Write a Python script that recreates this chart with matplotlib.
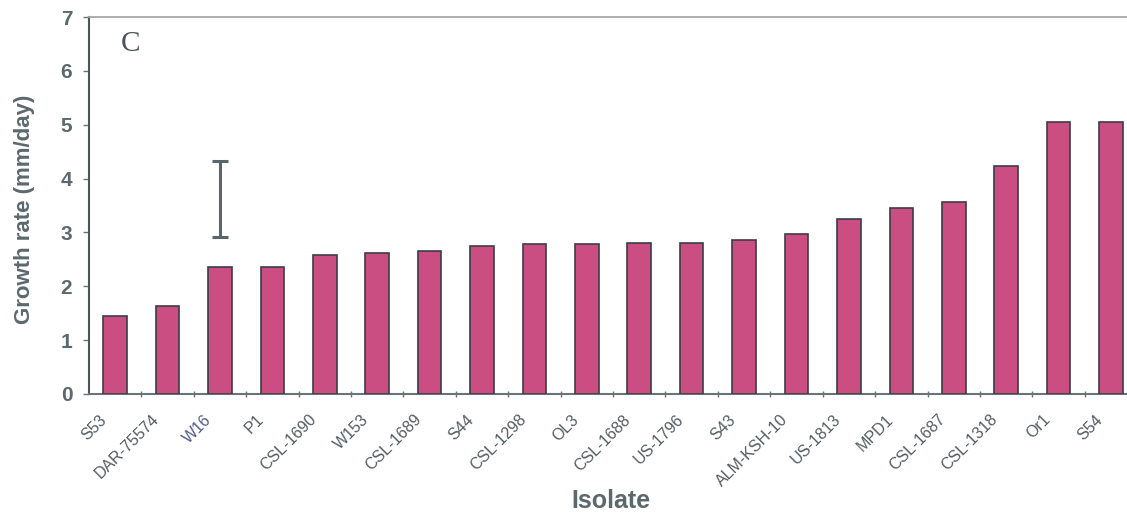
import matplotlib.pyplot as plt
import matplotlib.transforms as mtransforms

isolates = ['S53', 'DAR-75574', 'W16', 'P1', 'CSL-1690', 'W153', 'CSL-1689',
            'S44', 'CSL-1298', 'OL3', 'CSL-1688', 'US-1796', 'S43',
            'ALM-KSH-10', 'US-1813', 'MPD1', 'CSL-1687', 'CSL-1318', 'Or1', 'S54']
growth = [1.45, 1.63, 2.36, 2.36, 2.58, 2.62, 2.65, 2.75, 2.78, 2.78, 2.80,
          2.80, 2.86, 2.97, 3.25, 3.45, 3.56, 4.24, 5.06, 5.06]
lsd_pos = 2          # error bar sits above W16
lsd_low, lsd_high = 2.92, 4.33
y_ticks = [0, 1, 2, 3, 4, 5, 6, 7]

bar_color = '#cb4e82'
text_color = '#5b686c'

fig = plt.figure(figsize=(11.27, 5.17), dpi=100)
ax = fig.add_axes([0.079, 0.238, 0.930, 0.729])

x = list(range(len(isolates)))
ax.bar(x, growth, width=0.45, color=bar_color, edgecolor='#3c3c44', linewidth=1.2, zorder=3)

mid = (lsd_low + lsd_high) / 2
ax.errorbar([lsd_pos], [mid], yerr=[[mid - lsd_low], [lsd_high - mid]], fmt='none',
            ecolor='#59676c', elinewidth=2.2, capsize=6, capthick=2.2, zorder=4)

ax.set_xlim(-0.5, len(isolates) - 0.5)
ax.set_ylim(0, 7)
ax.set_yticks(y_ticks)
ax.set_yticklabels([str(t) for t in y_ticks], fontsize=15, fontweight='bold',
                   color=text_color, family='Liberation Sans')

# category boundary ticks only; names are placed as rotated texts below
ax.set_xticks([i + 0.5 for i in x[:-1]], minor=True)
ax.set_xticks([])
ax.tick_params(axis='x', which='minor', length=4, direction='inout', color='#6a7478', width=1)
ax.tick_params(axis='y', length=4, direction='out', color='#6a7478', width=1, pad=8)

shift = mtransforms.ScaledTranslation(-16 / 100, -18 / 100, fig.dpi_scale_trans)
name_tr = ax.get_xaxis_transform() + shift
for i, name in enumerate(isolates):
    ax.text(i, 0, name, transform=name_tr, rotation=45, ha='right', va='top',
            rotation_mode='anchor', fontsize=11.5, family='Liberation Sans',
            color='#4f5c8c' if i == lsd_pos else '#535c60')

ax.spines['left'].set_color('#4c5558')
ax.spines['left'].set_linewidth(1.5)
ax.spines['bottom'].set_color('#6a7478')
ax.spines['bottom'].set_linewidth(1.5)
ax.spines['top'].set_color('#a8a8a8')
ax.spines['top'].set_linewidth(1.3)
ax.spines['right'].set_visible(False)

ax.set_ylabel('Growth rate (mm/day)', fontsize=16, fontweight='bold', color=text_color,
              family='Liberation Sans')
ax.yaxis.set_label_coords(-0.052, 0.49)
ax.set_xlabel('Isolate', fontsize=18, fontweight='bold', color=text_color,
              family='Liberation Sans')
ax.xaxis.set_label_coords(0.498, -0.252)

ax.text(0.29, 6.75, 'C', fontsize=21, family='Liberation Serif', color='#4a5458',
        va='top', ha='center')

fig.savefig('out.png', dpi=100)
